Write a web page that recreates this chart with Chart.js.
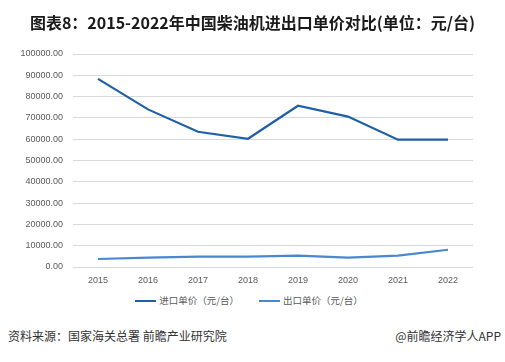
<!DOCTYPE html>
<html>
<head>
<meta charset="utf-8">
<script src="https://cdn.jsdelivr.net/npm/chart.js@4"></script>
<style>
  html, body { margin: 0; padding: 0; background: #fff; }
  #wrap { position: relative; width: 505px; height: 362px; overflow: hidden; }
  #title { position: absolute; left: 0; top: 10px; width: 505px; text-align: center;
    font: bold 16px "Noto Sans CJK SC", sans-serif; color: #1a1a1a; }
  .foot { position: absolute; top: 327px; font: 12px "Noto Sans CJK SC", sans-serif; color: #333; }
  #chartBox { position: absolute; left: 0; top: 0; width: 505px; height: 289px; }
  #legend { position: absolute; left: 0; top: 292px; width: 498px; display: flex; justify-content: center;
    gap: 20px; font: 9.5px "Noto Sans CJK SC", sans-serif; color: #595959; line-height: 16px; }
  #legend span.sw { display: inline-block; width: 21px; height: 2px; vertical-align: middle; margin-right: 3px; }
</style>
</head>
<body>
<div id="wrap">
  <div id="chartBox"><canvas id="c"></canvas></div>
  <div id="legend"></div>
  <div id="title">图表8：2015-2022年中国柴油机进出口单价对比(单位：元/台)</div>
  <div class="foot" style="left:8px">资料来源：国家海关总署 前瞻产业研究院</div>
  <div class="foot" style="right:4px">@前瞻经济学人APP</div>
</div>
<script>
const years = ['2015', '2016', '2017', '2018', '2019', '2020', '2021', '2022'];
const importPrice = [88300, 74000, 63500, 60200, 75700, 70600, 59800, 59800];
const exportPrice = [3750, 4400, 4850, 4850, 5300, 4400, 5300, 8100];
const seriesNames = ['进口单价（元/台）', '出口单价（元/台）'];
const colors = ['#1f5fa8', '#4a87d2'];

const tickFont = { family: 'Liberation Sans, Arial, sans-serif', size: 9 };

const chart = new Chart(document.getElementById('c'), {
  type: 'line',
  data: {
    labels: years,
    datasets: [
      { label: seriesNames[0], data: importPrice, borderColor: colors[0], backgroundColor: colors[0],
        borderWidth: 2.2, pointRadius: 0, tension: 0 },
      { label: seriesNames[1], data: exportPrice, borderColor: colors[1], backgroundColor: colors[1],
        borderWidth: 2.2, pointRadius: 0, tension: 0 }
    ]
  },
  options: {
    responsive: true,
    maintainAspectRatio: false,
    animation: false,
    layout: { padding: { top: 54, right: 32, left: 0, bottom: 0 } },
    scales: {
      x: {
        offset: true,
        afterFit: s => { s.height = 22; },
        grid: { display: false, drawTicks: false },
        border: { display: false },
        ticks: { color: '#595959', font: tickFont, padding: 8 }
      },
      y: {
        min: 0,
        max: 100000,
        afterFit: s => { s.width = 73; },
        grid: { color: '#d9d9d9', drawTicks: false },
        border: { display: false },
        ticks: {
          stepSize: 10000,
          color: '#595959',
          font: tickFont,
          padding: 10,
          callback: v => v.toFixed(2)
        }
      }
    },
    plugins: {
      legend: { display: false }, // HTML legend below
      tooltip: { enabled: false }
    }
  }
});

// legend
const legendEl = document.getElementById('legend');
chart.data.datasets.forEach(ds => {
  const item = document.createElement('div');
  item.innerHTML = `<span class="sw" style="background:${ds.borderColor}"></span>${ds.label}`;
  legendEl.appendChild(item);
});
</script>
</body>
</html>
